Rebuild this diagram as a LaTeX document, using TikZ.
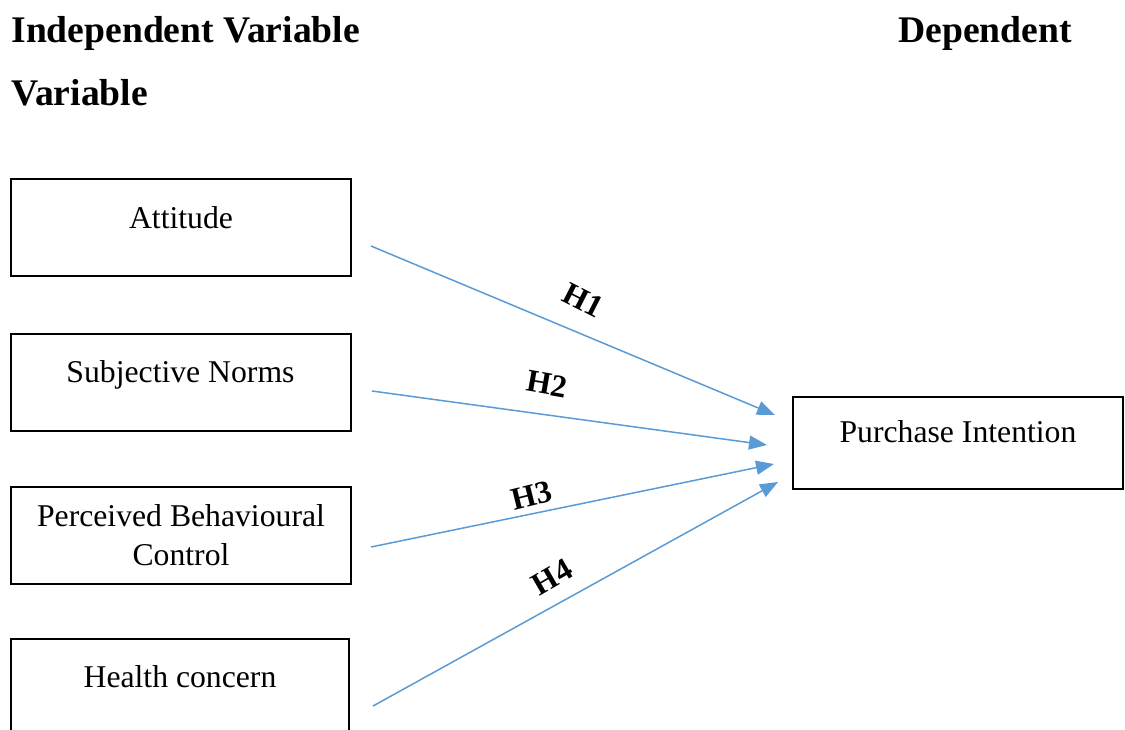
\documentclass[tikz,border=0pt]{standalone}
\usepackage{fontspec}
\setmainfont{Liberation Serif}
\usetikzlibrary{arrows.meta}
\definecolor{arrowblue}{HTML}{5B9BD5}
\begin{document}
\begin{tikzpicture}[x=0.5pt,y=-0.5pt,
  box/.style={draw=black,line width=1pt,minimum width=170pt,minimum height=48.5pt,inner sep=0pt},
  boxtext/.style={anchor=base,inner sep=0pt,font=\fontsize{15.85pt}{19.5pt}\selectfont,align=center},
  title/.style={anchor=base west,inner sep=0pt,font=\fontsize{18.8pt}{22pt}\selectfont\bfseries},
  hyp/.style={inner sep=0pt,font=\fontsize{15.85pt}{19pt}\selectfont\bfseries},
  link/.style={draw=arrowblue,line width=0.75pt,-{Triangle[length=9pt,width=7pt]}}]
\useasboundingbox (0,0) rectangle (1125,729);
% titles
\node[title] (tind) at (11,42) {Independent Variable};
\node[title] (tvar) at (11,105) {Variable};
\node[title] (tdep) at (898,42) {Dependent};
% boxes
\node[box] (att) at (181,227.5) {};
\node[box] (sn) at (181,382.5) {};
\node[box] (pbc) at (181,535.5) {};
\node[box,minimum width=169pt] (hc) at (180,687.5) {};
\node[box,minimum width=165pt,minimum height=46pt] (pi) at (958,443) {};
% box texts
\node[boxtext] (attt) at (181,228) {Attitude};
\node[boxtext] (snt) at (180.5,382) {Subjective Norms};
\node[boxtext] (pbct) at (181,565) {Perceived Behavioural\\Control};
\node[boxtext] (hct) at (180,687) {Health concern};
\node[boxtext] (pit) at (958,442) {Purchase Intention};
% connector endpoints
\coordinate (s1) at (371,246);
\coordinate (s2) at (372,391);
\coordinate (s3) at (371,547);
\coordinate (s4) at (373,706);
\coordinate (e1) at (775,415);
\coordinate (e2) at (767,445);
\coordinate (e3) at (774,464);
\coordinate (e4) at (778,482);
\draw[link] (s1) -- (e1);
\draw[link] (s2) -- (e2);
\draw[link] (s3) -- (e3);
\draw[link] (s4) -- (e4);
% hypothesis labels
\node[hyp,rotate=-27] (h1) at (583,300) {H1};
\node[hyp,rotate=-10] (h2) at (547,384) {H2};
\node[hyp,rotate=14] (h3) at (532,496) {H3};
\node[hyp,rotate=30] (h4) at (552,577) {H4};
\end{tikzpicture}
\end{document}
